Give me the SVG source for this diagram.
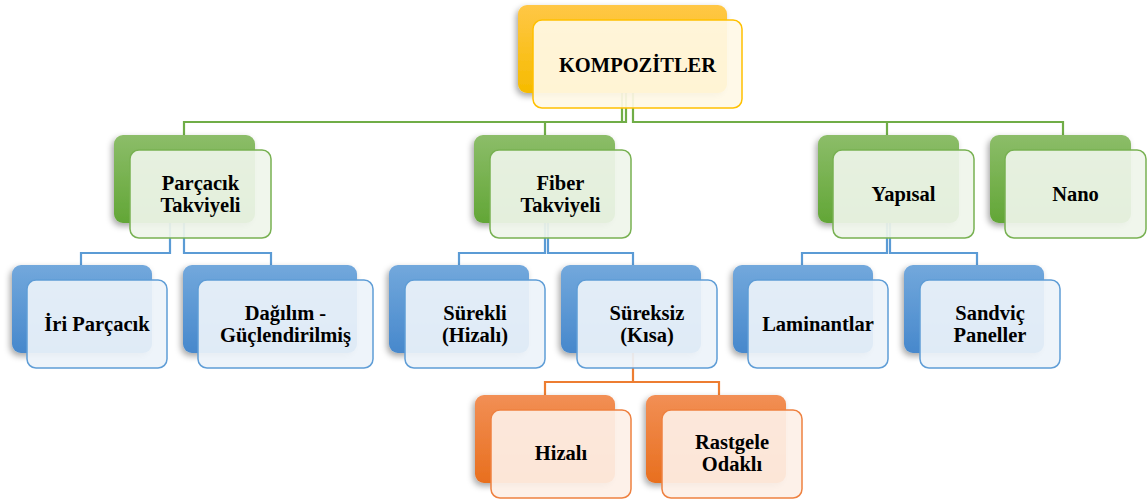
<svg xmlns="http://www.w3.org/2000/svg" width="1147" height="500" viewBox="0 0 1147 500">
<defs>
<linearGradient id="gY" x1="0" y1="0" x2="0" y2="1"><stop offset="0" stop-color="#ffc746"/><stop offset="1" stop-color="#f6bb00"/></linearGradient>
<linearGradient id="gG" x1="0" y1="0" x2="0" y2="1"><stop offset="0" stop-color="#8cbd69"/><stop offset="1" stop-color="#62a636"/></linearGradient>
<linearGradient id="gB" x1="0" y1="0" x2="0" y2="1"><stop offset="0" stop-color="#72a8dc"/><stop offset="1" stop-color="#4788cc"/></linearGradient>
<linearGradient id="gO" x1="0" y1="0" x2="0" y2="1"><stop offset="0" stop-color="#f28f55"/><stop offset="1" stop-color="#e86f1e"/></linearGradient>
<filter id="sh" x="-20%" y="-20%" width="140%" height="150%"><feDropShadow dx="-2" dy="3" stdDeviation="3" flood-color="#000" flood-opacity="0.35"/></filter>
</defs>
<style>
.back{filter:url(#sh)}
.front{fill-opacity:0.92;stroke-width:1.5}
.y .back{fill:url(#gY)} .y .front{fill:#fff8e6;stroke:#ffc000}
.g .back{fill:url(#gG)} .g .front{fill:#eff5ea;stroke:#78b152}
.b .back{fill:url(#gB)} .b .front{fill:#edf3fa;stroke:#5f9dd6}
.o .back{fill:url(#gO)} .o .front{fill:#fdf0e7;stroke:#ee8140}
text{font-family:'Liberation Serif','Times New Roman','DejaVu Serif',serif;font-weight:bold;font-size:20.5px;fill:#000;text-anchor:middle}
.cg{stroke:#70ad47;fill:none;stroke-width:2.2}
.cb{stroke:#5b9bd5;fill:none;stroke-width:2.2}
.co{stroke:#ed7d31;fill:none;stroke-width:2.2}
</style>
<g id="connectors">
<path class="cg" d="M622,93V122H184V135"/>
<path class="cg" d="M626,93V122H545V135"/>
<path class="cg" d="M633,93V122H887V135"/>
<path class="cg" d="M887,122H1063V135"/>
<path class="cb" d="M170,223V253H81V265"/>
<path class="cb" d="M184,223V253H271V265"/>
<path class="cb" d="M545,223V253H459V265"/>
<path class="cb" d="M548,223V253H633V265"/>
<path class="cb" d="M887,223V253H802V265"/>
<path class="cb" d="M890,223V253H977V265"/>
<path class="co" d="M633,353V382H545V395"/>
<path class="co" d="M633,382H719V395"/>
</g>
<g font-family="Liberation Serif, serif">
<g id="kompozitler" class="y"><rect class="back" x="518" y="5" width="209" height="88" rx="9"/><rect class="front" x="533" y="20" width="209" height="88" rx="9"/><text x="637.5" y="72">KOMPOZİTLER</text></g>
<g id="parcacik" class="g"><rect class="back" x="114" y="135" width="141" height="88" rx="9"/><rect class="front" x="130" y="150" width="141" height="88" rx="9"/><text x="200.5" y="190">Parçacık</text><text x="200.5" y="212">Takviyeli</text></g>
<g id="fiber" class="g"><rect class="back" x="474" y="135" width="141" height="88" rx="9"/><rect class="front" x="490" y="150" width="141" height="88" rx="9"/><text x="560.5" y="190">Fiber</text><text x="560.5" y="212">Takviyeli</text></g>
<g id="yapisal" class="g"><rect class="back" x="818" y="135" width="141" height="88" rx="9"/><rect class="front" x="833" y="150" width="141" height="88" rx="9"/><text x="903.5" y="201">Yapısal</text></g>
<g id="nano" class="g"><rect class="back" x="990" y="135" width="141" height="88" rx="9"/><rect class="front" x="1005" y="150" width="141" height="88" rx="9"/><text x="1075.5" y="201">Nano</text></g>
<g id="iri" class="b"><rect class="back" x="12" y="265" width="140" height="88" rx="9"/><rect class="front" x="27" y="280" width="140" height="88" rx="9"/><text x="97" y="331">İri Parçacık</text></g>
<g id="dagilim" class="b"><rect class="back" x="183" y="265" width="174" height="88" rx="9"/><rect class="front" x="198" y="280" width="175" height="88" rx="9"/><text x="285.5" y="320">Dağılım -</text><text x="285.5" y="342">Güçlendirilmiş</text></g>
<g id="surekli" class="b"><rect class="back" x="389" y="265" width="140" height="88" rx="9"/><rect class="front" x="405" y="280" width="140" height="88" rx="9"/><text x="475" y="320">Sürekli</text><text x="475" y="342">(Hizalı)</text></g>
<g id="sureksiz" class="b"><rect class="back" x="561" y="265" width="140" height="88" rx="9"/><rect class="front" x="577" y="280" width="140" height="88" rx="9"/><text x="647" y="320">Süreksiz</text><text x="647" y="342">(Kısa)</text></g>
<g id="laminantlar" class="b"><rect class="back" x="733" y="265" width="140" height="88" rx="9"/><rect class="front" x="748" y="280" width="140" height="88" rx="9"/><text x="818" y="331">Laminantlar</text></g>
<g id="sandvic" class="b"><rect class="back" x="904" y="265" width="140" height="88" rx="9"/><rect class="front" x="920" y="280" width="140" height="88" rx="9"/><text x="990" y="320">Sandviç</text><text x="990" y="342">Paneller</text></g>
<g id="hizali" class="o"><rect class="back" x="475" y="395" width="140" height="88" rx="9"/><rect class="front" x="491" y="410" width="140" height="88" rx="9"/><text x="561" y="460">Hizalı</text></g>
<g id="rastgele" class="o"><rect class="back" x="646" y="395" width="140" height="88" rx="9"/><rect class="front" x="662" y="410" width="140" height="88" rx="9"/><text x="732" y="449">Rastgele</text><text x="732" y="471">Odaklı</text></g>
</g>
</svg>
